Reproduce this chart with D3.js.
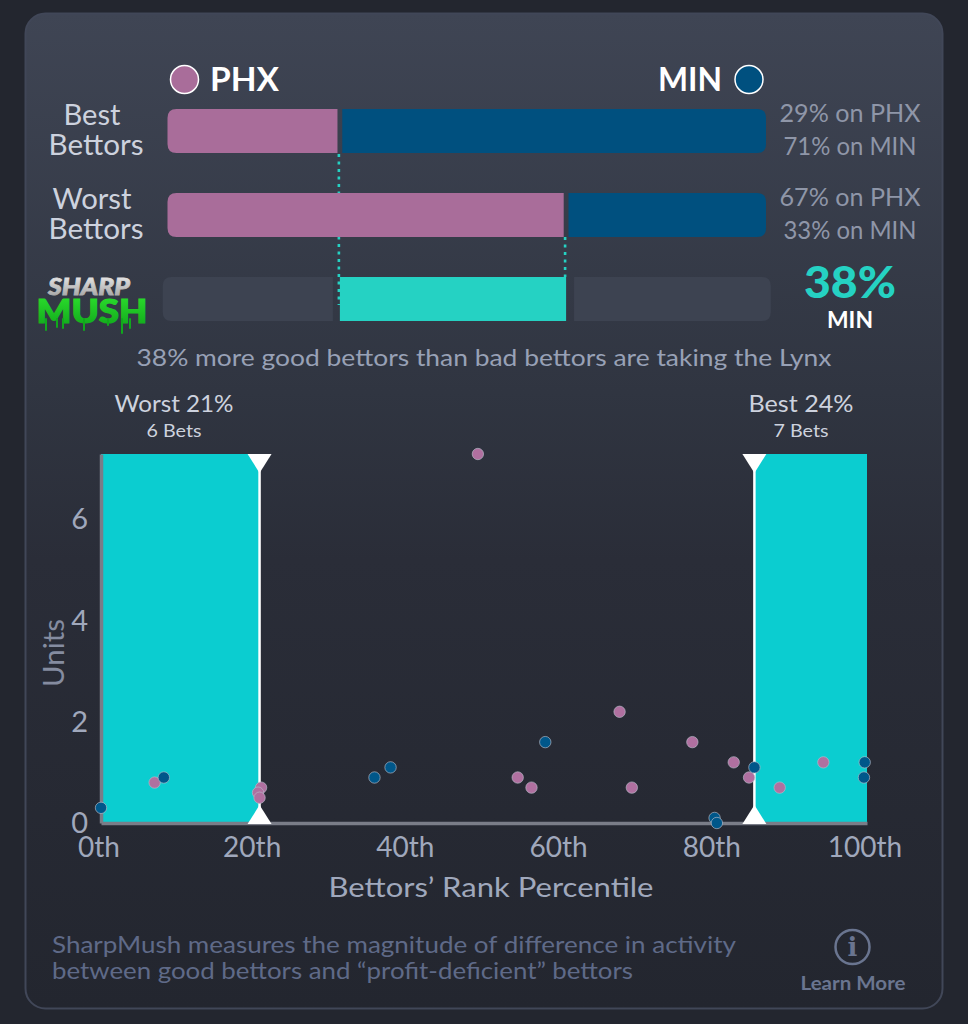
<!DOCTYPE html>
<html>
<head>
<meta charset="utf-8">
<script src="https://cdn.jsdelivr.net/npm/d3@7"></script>
<style>
  html, body { margin: 0; padding: 0; background: #23262f; }
  svg { display: block; }
  text { font-family: Lato, "Open Sans", sans-serif; }
</style>
</head>
<body>
<div id="chart"></div>
<script>
// share of each group on PHX (the rest is on MIN)
const groups = ['Best', 'Worst'];
const phxShare = [28.8, 66.6];
const shareLabels = [['29% on PHX', '71% on MIN'], ['67% on PHX', '33% on MIN']];

// scatter: percentile rank and units per bet
const phxRank = [7, 20.9, 20.5, 20.7, 49.2, 54.4, 56.2, 67.7, 69.3, 77.2, 82.6, 84.6, 88.6, 94.3];
const phxUnits = [0.8, 0.7, 0.6, 0.5, 7.3, 0.9, 0.7, 2.2, 0.7, 1.6, 1.2, 0.9, 0.7, 1.2];
const minRank = [0, 8.2, 35.7, 37.8, 58, 80.1, 80.4, 85.3, 99.7, 99.6];
const minUnits = [0.3, 0.9, 0.9, 1.1, 1.6, 0.1, 0, 1.1, 1.2, 0.9];

const worstCut = 20.7;
const bestCut = 85.3;
const xTicks = [0, 20, 40, 60, 80, 100];
const yTicks = [0, 2, 4, 6];

const PINK = '#a96d9a', BLUE = '#00507f', TEAL = '#25d2c3', CYAN = '#0bcdd0';

const svg = d3.select('#chart').append('svg').attr('width', 968).attr('height', 1024);
const defs = svg.append('defs');

const cardGrad = defs.append('linearGradient').attr('id', 'card').attr('x1', 0).attr('x2', 0).attr('y1', 0).attr('y2', 1);
cardGrad.append('stop').attr('offset', '0%').attr('stop-color', '#3f4554');
cardGrad.append('stop').attr('offset', '38%').attr('stop-color', '#303541');
cardGrad.append('stop').attr('offset', '55%').attr('stop-color', '#2a2d38');
cardGrad.append('stop').attr('offset', '100%').attr('stop-color', '#23262f');

const sharpGrad = defs.append('linearGradient').attr('id', 'sharp').attr('x1', 0).attr('x2', 0).attr('y1', 0).attr('y2', 1);
sharpGrad.append('stop').attr('offset', '0%').attr('stop-color', '#f2f2f2');
sharpGrad.append('stop').attr('offset', '100%').attr('stop-color', '#9c9c9c');

const mushGrad = defs.append('linearGradient').attr('id', 'mush').attr('x1', 0).attr('x2', 0).attr('y1', 0).attr('y2', 1);
mushGrad.append('stop').attr('offset', '0%').attr('stop-color', '#2fe62f');
mushGrad.append('stop').attr('offset', '100%').attr('stop-color', '#0fa41a');

// card
svg.append('rect').attr('x', 25.5).attr('y', 13.5).attr('width', 917).attr('height', 995).attr('rx', 20)
  .attr('fill', 'url(#card)').attr('stroke', '#414758').attr('stroke-width', 2);

// helper for plain labels
function label(x, y, str, size, color, opts = {}) {
  const t = svg.append('text').attr('x', x).attr('y', y)
    .attr('text-anchor', opts.anchor || 'middle')
    .attr('font-size', size)
    .attr('font-weight', opts.weight || 400)
    .attr('fill', color)
    .text(str);
  if (opts.len) t.attr('textLength', opts.len).attr('lengthAdjust', 'spacingAndGlyphs');
  return t;
}

// bar with only one side rounded
function sideBar(x0, x1, y, h, r, side, fill) {
  const p = side === 'left'
    ? `M${x1},${y}H${x0 + r}Q${x0},${y} ${x0},${y + r}V${y + h - r}Q${x0},${y + h} ${x0 + r},${y + h}H${x1}Z`
    : `M${x0},${y}H${x1 - r}Q${x1},${y} ${x1},${y + r}V${y + h - r}Q${x1},${y + h} ${x1 - r},${y + h}H${x0}Z`;
  svg.append('path').attr('d', p).attr('fill', fill);
}

// --- top split bars ---
const shareX = d3.scaleLinear().domain([0, 100]).range([167.5, 766]);
const barH = 44;
const rowTop = g => ({ Best: 109, Worst: 193, mush: 277 }[g]);

// legend
svg.append('circle').attr('cx', 184.5).attr('cy', 79.5).attr('r', 14).attr('fill', PINK).attr('stroke', '#fff').attr('stroke-width', 1.5);
svg.append('circle').attr('cx', 749).attr('cy', 79.5).attr('r', 14).attr('fill', BLUE).attr('stroke', '#fff').attr('stroke-width', 1.5);
label(210, 91, 'PHX', 32, '#fff', { anchor: 'start', weight: 700, len: 69 });
label(722, 91, 'MIN', 32, '#fff', { anchor: 'end', weight: 700, len: 64 });

// dotted connectors sit behind the bars
const cutLines = [[phxShare[0], 154, 305], [phxShare[1], 237, 277]];
cutLines.forEach(([v, y1, y2]) => {
  svg.append('line').attr('x1', shareX(v) - 1).attr('x2', shareX(v) - 1).attr('y1', y1).attr('y2', y2)
    .attr('stroke', TEAL).attr('stroke-width', 2.6).attr('stroke-dasharray', '3,4.5');
});

groups.forEach((g, i) => {
  const y = rowTop(g);
  const split = shareX(phxShare[i]);
  sideBar(shareX(0), split - 2.4, y, barH, 9, 'left', PINK);
  sideBar(split + 2.4, shareX(100), y, barH, 9, 'right', BLUE);
  label(92, y + 16, g, 28, '#cdd2de', { len: g === 'Best' ? 57 : 79 });
  label(96, y + 46, 'Bettors', 28, '#cdd2de', { len: 95 });
  label(850, y + 13, shareLabels[i][0], 25, '#8f96a8', { len: 141 });
  label(850, y + 46, shareLabels[i][1], 25, '#8f96a8', { len: 133 });
});

// mush track
const mushY = rowTop('mush');
sideBar(shareX(-0.8), shareX(phxShare[0]) - 7, mushY, barH, 9, 'left', '#3d4351');
sideBar(shareX(phxShare[1]) + 8, shareX(100.8), mushY, barH, 9, 'right', '#3d4351');
svg.append('rect').attr('x', shareX(phxShare[0])).attr('y', mushY)
  .attr('width', shareX(phxShare[1]) - shareX(phxShare[0])).attr('height', barH).attr('fill', TEAL);

label(850, 298, '38%', 44, TEAL, { weight: 900, len: 92 });
label(850, 328, 'MIN', 23, '#fff', { weight: 700, len: 46 });
label(484, 366, '38% more good bettors than bad bettors are taking the Lynx', 24, '#98a1b6', { len: 695 });

// logo, drawn as text with a few drips
label(89, 295, 'SHARP', 23, 'url(#sharp)', { weight: 900, len: 82 }).attr('font-style', 'italic')
  .attr('stroke', 'url(#sharp)').attr('stroke-width', 0.8);
label(92, 323, 'MUSH', 33, 'url(#mush)', { weight: 900, len: 111 })
  .attr('stroke', 'url(#mush)').attr('stroke-width', 1.2);
[[45, 331], [56, 328], [62, 329], [83, 331], [107, 326], [121, 334], [129, 329]].forEach(d => {
  svg.append('rect').attr('x', d[0]).attr('y', 318).attr('width', 2).attr('height', d[1] - 318).attr('rx', 1).attr('fill', '#10a81c');
});

// --- scatter ---
const x = d3.scaleLinear().domain([0, 100]).range([101, 867]);
const y = d3.scaleLinear().domain([0, 7.3]).range([823, 454]);

svg.append('rect').attr('x', x(0)).attr('y', y(7.3)).attr('width', x(worstCut) - x(0)).attr('height', y(0) - y(7.3)).attr('fill', CYAN);
svg.append('rect').attr('x', x(bestCut)).attr('y', y(7.3)).attr('width', x(100) - x(bestCut)).attr('height', y(0) - y(7.3)).attr('fill', CYAN);

const xAxis = svg.append('g').attr('transform', `translate(0,${y(0)})`)
  .call(d3.axisBottom(x).tickValues(xTicks).tickSize(0).tickPadding(14).tickFormat(d => d + 'th'));
const yAxis = svg.append('g').attr('transform', `translate(${x(0)},0)`)
  .call(d3.axisLeft(y).tickValues(yTicks).tickSize(0).tickPadding(13).tickFormat(d3.format('d')));

xAxis.select('.domain').attr('stroke', '#7a7d88').attr('stroke-width', 3.5);
yAxis.select('.domain').attr('stroke', '#7a7d88').attr('stroke-width', 3.5);
xAxis.selectAll('text').attr('font-family', 'Lato').attr('font-size', 28).attr('fill', '#a0a8bc').attr('dx', -2.5);
yAxis.selectAll('text').attr('font-family', 'Lato').attr('font-size', 29).attr('fill', '#a0a8bc');

label(491, 897, "Bettors’ Rank Percentile", 27, '#a0a8bc', { len: 325 });
label(0, 0, 'Units', 28, '#858ca0', { len: 68 }).attr('transform', 'translate(64,653) rotate(-90)');

label(174, 412, 'Worst 21%', 24, '#cdd2de', { len: 119 });
label(174, 437, '6 Bets', 18, '#cdd2de', { len: 55 });
label(801, 412, 'Best 24%', 24, '#cdd2de', { len: 105 });
label(801, 437, '7 Bets', 18, '#cdd2de', { len: 55 });

// cutoff handles
[worstCut, bestCut].forEach(c => {
  const cx = x(c);
  svg.append('line').attr('x1', cx).attr('x2', cx).attr('y1', y(7.3)).attr('y2', y(0)).attr('stroke', '#fff').attr('stroke-width', 2.5);
  svg.append('path').attr('d', `M${cx - 12},${y(7.3)}H${cx + 12}L${cx},${y(7.3) + 19}Z`).attr('fill', '#fff');
  svg.append('path').attr('d', `M${cx - 12},${y(0) + 1}H${cx + 12}L${cx},${y(0) - 18}Z`).attr('fill', '#fff');
});

function dots(ranks, units, fill) {
  svg.append('g').selectAll('circle')
    .data(ranks)
    .enter()
    .append('circle')
    .attr('cx', d => x(d))
    .attr('cy', (d, i) => y(units[i]))
    .attr('r', 5.7)
    .attr('fill', fill)
    .attr('stroke', '#b7bcca')
    .attr('stroke-opacity', 0.65)
    .attr('stroke-width', 1);
}
dots(phxRank, phxUnits, '#b070a0');
dots(minRank, minUnits, '#00578a');

// --- footer ---
label(52, 953, 'SharpMush measures the magnitude of difference in activity', 24, '#5f6a88', { anchor: 'start', len: 684 });
label(52, 979, 'between good bettors and “profit-deficient” bettors', 24, '#5f6a88', { anchor: 'start', len: 581 });

svg.append('circle').attr('cx', 852.5).attr('cy', 947).attr('r', 17).attr('fill', 'none').attr('stroke', '#6a7590').attr('stroke-width', 2.5);
label(852.5, 956, 'i', 26, '#6a7590', { weight: 700 }).style('font-family', 'DejaVu Serif');
label(853, 990, 'Learn More', 19, '#6a7590', { weight: 700, len: 105 });
</script>
</body>
</html>
